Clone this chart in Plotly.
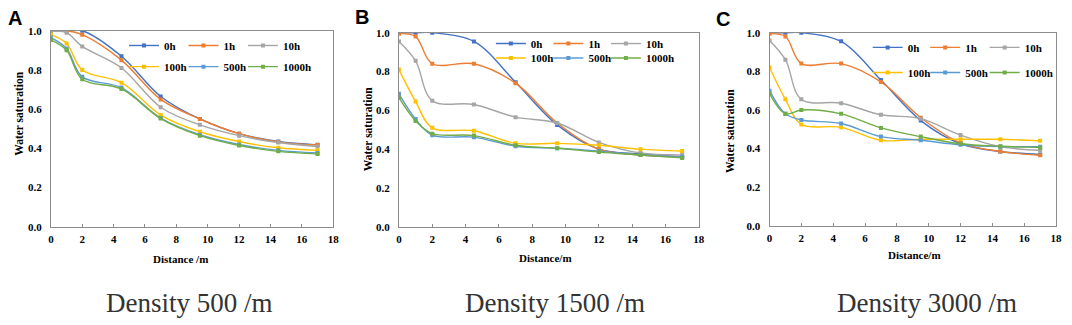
import plotly.graph_objects as go

W, H = 1072, 325

distance = [0, 1, 2, 4.5, 7, 9.5, 12, 14.5, 17]
series_names = ["0h", "1h", "10h", "100h", "500h", "1000h"]
series_colors = ["#4472C4", "#ED7D31", "#A5A5A5", "#FFC000", "#5B9BD5", "#70AD47"]

# Panel A: Density 500 /m
a_0h = [1.0, 1.0, 1.0, 0.87, 0.665, 0.55, 0.475, 0.435, 0.418]
a_1h = [1.0, 1.0, 0.98, 0.85, 0.65, 0.55, 0.475, 0.433, 0.417]
a_10h = [1.0, 0.99, 0.92, 0.81, 0.61, 0.52, 0.465, 0.43, 0.41]
a_100h = [0.98, 0.935, 0.80, 0.735, 0.57, 0.485, 0.435, 0.403, 0.39]
a_500h = [0.965, 0.91, 0.765, 0.71, 0.555, 0.47, 0.42, 0.39, 0.377]
a_1000h = [0.953, 0.90, 0.753, 0.703, 0.552, 0.465, 0.415, 0.385, 0.372]

# Panel B: Density 1500 /m
b_0h = [1.0, 1.0, 1.0, 0.955, 0.745, 0.525, 0.40, 0.375, 0.36]
b_1h = [0.995, 0.98, 0.84, 0.84, 0.74, 0.535, 0.40, 0.37, 0.36]
b_10h = [0.955, 0.855, 0.65, 0.63, 0.565, 0.535, 0.435, 0.38, 0.37]
b_100h = [0.81, 0.645, 0.51, 0.495, 0.43, 0.43, 0.42, 0.40, 0.39]
b_500h = [0.685, 0.555, 0.472, 0.462, 0.415, 0.405, 0.39, 0.37, 0.36]
b_1000h = [0.665, 0.545, 0.48, 0.47, 0.42, 0.405, 0.385, 0.37, 0.355]

# Panel C: Density 3000 /m
c_0h = [1.0, 1.0, 1.0, 0.955, 0.755, 0.545, 0.425, 0.385, 0.37]
c_1h = [0.995, 0.98, 0.84, 0.84, 0.745, 0.56, 0.43, 0.385, 0.365]
c_10h = [0.96, 0.86, 0.655, 0.635, 0.575, 0.555, 0.47, 0.41, 0.39]
c_100h = [0.82, 0.655, 0.525, 0.51, 0.443, 0.448, 0.448, 0.448, 0.44]
c_500h = [0.70, 0.58, 0.548, 0.53, 0.462, 0.443, 0.42, 0.41, 0.41]
c_1000h = [0.685, 0.58, 0.60, 0.58, 0.507, 0.462, 0.425, 0.412, 0.405]

panel_letters = ["A", "B", "C"]
panel_captions = ["Density 500 /m", "Density 1500 /m", "Density 3000 /m"]
x_titles = ["Distance /m", "Distance/m", "Distance/m"]
y_title = "Water saturation"
x_ticks = [0, 2, 4, 6, 8, 10, 12, 14, 16, 18]
y_ticks = [0.0, 0.2, 0.4, 0.6, 0.8, 1.0]

panels = [
    [a_0h, a_1h, a_10h, a_100h, a_500h, a_1000h],
    [b_0h, b_1h, b_10h, b_100h, b_500h, b_1000h],
    [c_0h, c_1h, c_10h, c_100h, c_500h, c_1000h],
]

# ---- layout geometry (pixels) ----
plot_boxes = [  # left, right, top, bottom
    (48.3, 333.0, 25.7, 229.3),
    (399.3, 701.7, 27.7, 229.3),
    (773.0, 1062.0, 27.7, 228.3),
]
# legend text start x per column, and row y centers
legend_col_x = [(162, 222, 282), (532, 590, 648), (912, 970, 1030)]
legend_row_y = [(41, 63), (39, 54), (43, 69)]
letter_pos = [(12.5, 12.5), (362, 11), (726, 13)]
caption_pos = [(188, 308), (557, 308), (932, 308)]
xtitle_pos = [(179, 263), (547, 262), (919, 259)]
ytitle_pos = [(16, 112), (368, 128), (733, 130)]

SERIF = "Liberation Serif"
SANS = "Liberation Sans"
FRAME = "#8c8c8c"

def px(x):
    return x / W

def py(y):
    return 1 - y / H

fig = go.Figure()
layout = dict(
    width=W, height=H,
    margin=dict(l=0, r=0, t=0, b=0),
    paper_bgcolor="white", plot_bgcolor="white",
    showlegend=True,
    annotations=[],
)

legend_idx = 0
for p, series in enumerate(panels):
    suffix = "" if p == 0 else str(p + 1)
    xa, ya = "x" + suffix, "y" + suffix
    l, r, t, b = plot_boxes[p]
    layout["xaxis" + suffix] = dict(
        domain=[px(l), px(r)], anchor=ya, range=[0, 18],
        tickvals=x_ticks, ticks="inside", ticklen=3, tickcolor=FRAME,
        showline=True, linecolor=FRAME, linewidth=1, mirror=True,
        showgrid=False, zeroline=False,
        tickfont=dict(family=SERIF, size=11, color="black", weight="bold"),
        ticklabelstandoff=2,
    )
    layout["yaxis" + suffix] = dict(
        domain=[py(b), py(t)], anchor=xa, range=[0, 1.0],
        tickvals=y_ticks, tickformat=".1f", ticks="",
        showline=True, linecolor=FRAME, linewidth=1, mirror=True,
        showgrid=False, zeroline=False,
        tickfont=dict(family=SERIF, size=11, color="black", weight="bold"),
        ticklabelstandoff=6,
    )
    for i, (name, color, vals) in enumerate(zip(series_names, series_colors, series)):
        legend_idx += 1
        lname = "legend" if legend_idx == 1 else "legend" + str(legend_idx)
        fig.add_trace(go.Scatter(
            x=distance, y=vals, name=name, mode="lines+markers",
            line=dict(color=color, width=1.4, shape="spline", smoothing=1.0),
            marker=dict(symbol="square", size=4, color=color),
            xaxis=xa, yaxis=ya, legend=lname,
        ))
        row, col = divmod(i, 3)
        tx = legend_col_x[p][col]
        ty = legend_row_y[p][row]
        layout[lname] = dict(
            x=px(tx - 40), y=py(ty), xanchor="left", yanchor="middle",
            xref="paper", yref="paper",
            bgcolor="rgba(0,0,0,0)", borderwidth=0,
            orientation="h", itemwidth=30,
            font=dict(family=SERIF, size=11, color="black", weight="bold"),
            itemclick=False, itemdoubleclick=False,
        )
    ann = layout["annotations"]
    lx, ly = letter_pos[p]
    ann.append(dict(text=panel_letters[p], x=px(lx), y=py(ly), xref="paper", yref="paper",
                    showarrow=False, xanchor="center", yanchor="middle",
                    font=dict(family=SANS, size=20, color="black", weight="bold")))
    cx, cy = caption_pos[p]
    ann.append(dict(text=panel_captions[p], x=px(cx), y=py(cy), xref="paper", yref="paper",
                    showarrow=False, xanchor="center", yanchor="middle",
                    font=dict(family=SERIF, size=27, color="#333333")))
    xx, xy = xtitle_pos[p]
    ann.append(dict(text=x_titles[p], x=px(xx), y=py(xy), xref="paper", yref="paper",
                    showarrow=False, xanchor="center", yanchor="middle",
                    font=dict(family=SERIF, size=11, color="black", weight="bold")))
    yx, yy = ytitle_pos[p]
    ann.append(dict(text=y_title, x=px(yx), y=py(yy), xref="paper", yref="paper",
                    showarrow=False, xanchor="center", yanchor="middle", textangle=-90,
                    font=dict(family=SERIF, size=11.5, color="black", weight="bold")))

fig.update_layout(**layout)
fig.write_html("out.html",
               config={"displayModeBar": False},
               post_script="document.body.style.margin='0';document.body.style.overflow='hidden';")
